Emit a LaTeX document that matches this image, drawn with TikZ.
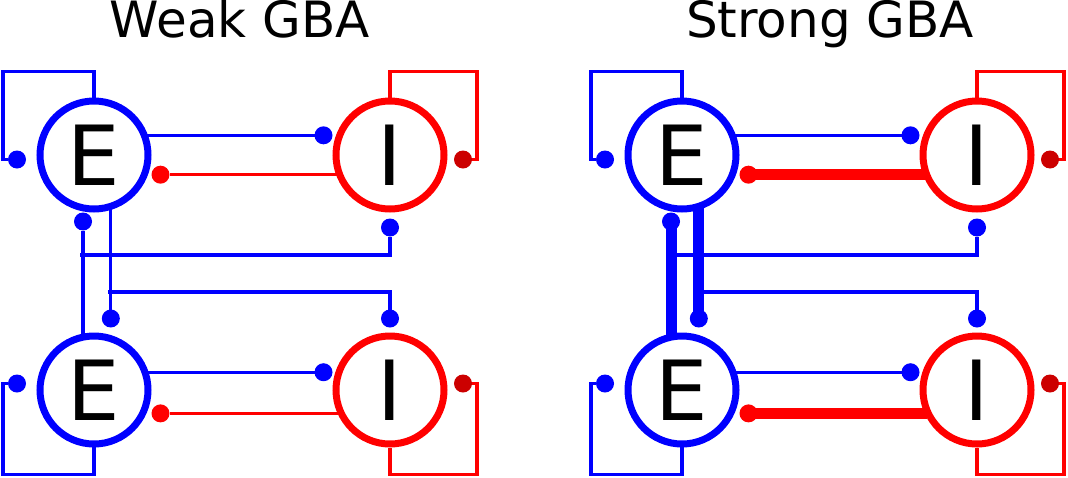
\documentclass[tikz,border=0pt]{standalone}
\usepackage{fontspec}
\setmainfont{DejaVu Sans}
\usetikzlibrary{arrows.meta,calc}
\colorlet{darkred}{red!80!black}

\begin{document}
\begin{tikzpicture}[x=1pt, y=-1pt,
  neuron/.style={circle, line width=7pt, minimum size=108pt, inner sep=0pt, font=\fontsize{83}{83}\selectfont},
  exc/.style={neuron, draw=blue},
  inh/.style={neuron, draw=red},
  title/.style={anchor=base, font=\fontsize{50}{50}\selectfont},
  syn/.style={line width=3.3pt, shorten <=-3pt, -{Circle[length=18pt, line width=0pt]}},
  esyn/.style={syn, blue},
  isyn/.style={syn, red},
  strong/.style={preaction={draw=#1, -, line width=11pt, shorten >=9pt}},
  iloop/.style={line width=3.3pt, red, -{Circle[length=18pt, line width=0pt, color=darkred]}}]

  \useasboundingbox (0,0) rectangle (1068,477);

  % ===== Panel A: Weak GBA =====
  \node[title] (wt) at (240,37) {Weak GBA};

  \node[exc] (wE1) at (94,155) {E};
  \node[inh] (wI1) at (390,155) {I};
  \node[exc] (wE2) at (94,390) {E};
  \node[inh] (wI2) at (390,390) {I};

  % self loops
  \draw[esyn] (wE1.north) -- ++(0,-26) -- ++(-91,0) -- ++(0,88) -- ++(23,0);
  \draw[iloop] (wI1.north) -- ++(0,-26) -- ++(87,0) -- ++(0,88) -- ++(-23,0);
  \draw[esyn] (wE2.south) -- ++(0,27) -- ++(-91,0) -- ++(0,-91) -- ++(23,0);
  \draw[iloop] (wI2.south) -- ++(0,27) -- ++(87,0) -- ++(0,-91) -- ++(-23,0);

  % E <-> I
  \draw[esyn] (wE1.20) -- (wE1.20 -| wI1.west);
  \draw[isyn] (wI1.200) -- (wI1.200 -| wE1.east);
  \draw[esyn] (wE2.18) -- (wE2.18 -| wI2.west);
  \draw[isyn] (wI2.204) -- (wI2.204 -| wE2.east);

  % across the rows
  \coordinate (wI1in) at ([yshift=-6pt]wI1.south);
  \coordinate (wE2in) at ([yshift=5pt]wE2.north);
  \coordinate (wI2in) at ([yshift=5pt]wI2.north);
  \coordinate (wjA) at (wE2.101 |- 0,255);
  \coordinate (wjB) at (wE1.-73 |- 0,292);
  \draw[esyn] (wE2.101) -- (wE2.101 |- wE1.south);
  \draw[esyn] (wjA) -| (wI1in);
  \draw[esyn] (wE1.-73) -- (wE1.-73 |- wE2in);
  \draw[esyn] (wjB) -| (wI2in);

  % ===== Panel B: Strong GBA =====
  \node[title] (st) at (830,37) {Strong GBA};

  \node[exc] (sE1) at (682,155) {E};
  \node[inh] (sI1) at (977,155) {I};
  \node[exc] (sE2) at (682,390) {E};
  \node[inh] (sI2) at (977,390) {I};

  % self loops
  \draw[esyn] (sE1.north) -- ++(0,-26) -- ++(-91,0) -- ++(0,88) -- ++(23,0);
  \draw[iloop] (sI1.north) -- ++(0,-26) -- ++(87,0) -- ++(0,88) -- ++(-23,0);
  \draw[esyn] (sE2.south) -- ++(0,27) -- ++(-91,0) -- ++(0,-91) -- ++(23,0);
  \draw[iloop] (sI2.south) -- ++(0,27) -- ++(87,0) -- ++(0,-91) -- ++(-23,0);

  % E <-> I
  \draw[esyn] (sE1.20) -- (sE1.20 -| sI1.west);
  \draw[isyn, strong=red] (sI1.200) -- (sI1.200 -| sE1.east);
  \draw[esyn] (sE2.18) -- (sE2.18 -| sI2.west);
  \draw[isyn, strong=red] (sI2.204) -- (sI2.204 -| sE2.east);

  % across the rows
  \coordinate (sI1in) at ([yshift=-6pt]sI1.south);
  \coordinate (sE2in) at ([yshift=5pt]sE2.north);
  \coordinate (sI2in) at ([yshift=5pt]sI2.north);
  \coordinate (sjA) at (sE2.101 |- 0,255);
  \coordinate (sjB) at (sE1.-73 |- 0,292);
  \draw[esyn] (sjA) -| (sI1in);
  \draw[esyn] (sjB) -| (sI2in);
  \draw[esyn, strong=blue] (sE2.101) -- (sE2.101 |- sE1.south);
  \draw[esyn, strong=blue] (sE1.-73) -- (sE1.-73 |- sE2in);

\end{tikzpicture}
\end{document}
